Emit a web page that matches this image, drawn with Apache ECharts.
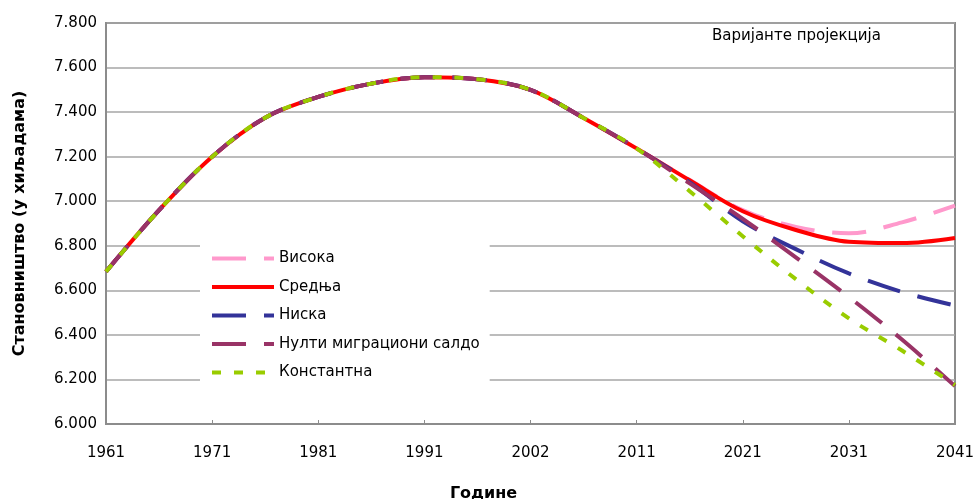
<!DOCTYPE html>
<html>
<head>
<meta charset="utf-8">
<script src="https://cdn.jsdelivr.net/npm/echarts@6/dist/echarts.min.js"></script>
<style>
  html, body { margin: 0; padding: 0; background: #fff; }
  #chart { width: 973px; height: 499px; }
</style>
</head>
<body>
<div id="chart"></div>
<script>
// tick labels along the x axis (census years, evenly spaced)
var tickLabels = ['1961', '1971', '1981', '1991', '2002', '2011', '2021', '2031', '2041'];

// common past, shared by every variant
var censusYears = [1961, 1966, 1971, 1976, 1981, 1986, 1991, 1996, 2001, 2006, 2011];
var censusPop = [6.684, 6.96, 7.20, 7.375, 7.468, 7.528, 7.557, 7.548, 7.500, 7.374, 7.237];

// projection variants
var projYears = [2016, 2021, 2026, 2031, 2036, 2041];
var visoka     = [7.095, 6.960, 6.885, 6.856, 6.905, 6.980];
var srednja    = [7.094, 6.955, 6.871, 6.818, 6.812, 6.835];
var niska      = [7.085, 6.910, 6.785, 6.676, 6.593, 6.532];
var nulti      = [7.080, 6.921, 6.748, 6.570, 6.379, 6.170];
var konstantna = [7.045, 6.843, 6.650, 6.474, 6.330, 6.175];

var names = ['Висока', 'Средња', 'Ниска', 'Нулти миграциони салдо', 'Константна'];

var font = 'DejaVu Sans, sans-serif';

function build(proj) {
  var out = [];
  censusYears.forEach(function(y, i) { out.push([y - 1961, censusPop[i]]); });
  projYears.forEach(function(y, i) { out.push([y - 1961, proj[i]]); });
  return out;
}

function line(name, proj, color, type) {
  return {
    name: name,
    type: 'line',
    data: build(proj),
    smooth: 0.35,
    symbol: 'none',
    lineStyle: { color: color, width: 4, type: type, cap: 'butt' },
    itemStyle: { color: color }
  };
}

var chart = echarts.init(document.getElementById('chart'), null, { renderer: 'canvas' });
chart.setOption({
  animation: false,
  textStyle: { fontFamily: font },
  title: {
    text: 'Варијанте пројекција',
    left: 707, top: 24,
    textStyle: { fontFamily: font, fontSize: 15, fontWeight: 'normal', color: '#000' }
  },
  legend: {
    orient: 'vertical',
    left: 200, top: 241,
    padding: [10, 10, 8, 10],
    backgroundColor: '#fff',
    itemWidth: 62, itemHeight: 14, itemGap: 13.5,
    itemStyle: { opacity: 0 },
    lineStyle: { width: 4 },
    textStyle: { fontFamily: font, fontSize: 15, color: '#000' },
    data: names
  },
  grid: {
    left: 106, right: 18, top: 23, bottom: 75,
    outerBoundsMode: 'none', containLabel: false,
    show: true, borderColor: '#8c8c8c', borderWidth: 2
  },
  xAxis: {
    type: 'value',
    min: 0, max: 80, interval: 10,
    name: 'Године',
    nameLocation: 'middle',
    nameGap: 62,
    nameTextStyle: { fontFamily: font, fontSize: 16, fontWeight: 'bold', color: '#000', padding: [0, 94, 0, 0] },
    axisLine: { lineStyle: { color: '#8c8c8c', width: 2 } },
    axisTick: { show: true, inside: true, length: 4, lineStyle: { color: '#8c8c8c' } },
    axisLabel: {
      color: '#000', fontSize: 15, margin: 22, fontFamily: font,
      formatter: function(v) { return tickLabels[Math.round(v / 10)]; }
    },
    splitLine: { show: false }
  },
  yAxis: {
    type: 'value',
    min: 6, max: 7.8, interval: 0.2,
    name: 'Становништво (у хиљадама)',
    nameLocation: 'middle',
    nameGap: 78,
    nameTextStyle: { fontFamily: font, fontSize: 16, fontWeight: 'bold', color: '#000' },
    axisLine: { show: true, lineStyle: { color: '#8c8c8c', width: 2 } },
    axisTick: { show: false },
    axisLabel: {
      color: '#000', fontSize: 15, margin: 9, fontFamily: font,
      formatter: function(v) { return v.toFixed(3); }
    },
    splitLine: { lineStyle: { color: '#a6a6a6', width: 1.5 } }
  },
  series: [
    line(names[0], visoka, '#ff99cc', [34, 18]),
    line(names[1], srednja, '#ff0000', 'solid'),
    line(names[2], niska, '#333399', [34, 18]),
    line(names[3], nulti, '#993366', [34, 18]),
    line(names[4], konstantna, '#99cc00', [9, 13])
  ]
});
</script>
</body>
</html>
